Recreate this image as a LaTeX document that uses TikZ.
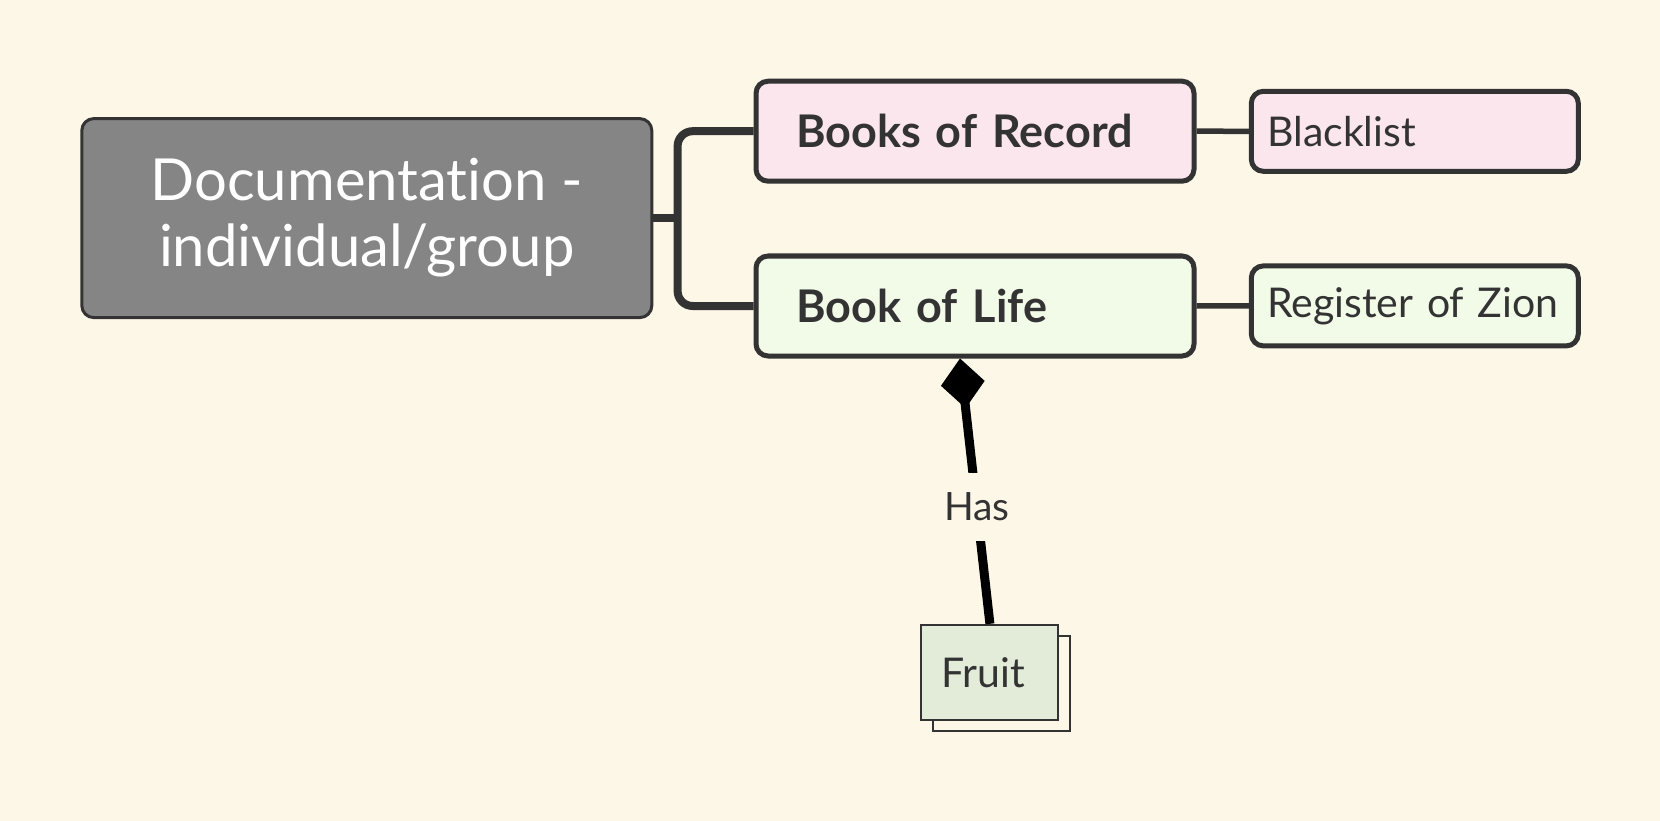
\documentclass[tikz,border=0pt]{standalone}
\usepackage{fontspec}
\setmainfont{Lato}[Ligatures=NoCommon]
\usetikzlibrary{arrows.meta,shadows,calc}
\definecolor{bg}{HTML}{FDF7E8}
\definecolor{dark}{HTML}{333333}
\definecolor{cgray}{HTML}{858585}
\definecolor{pinkf}{HTML}{FAE6EC}
\definecolor{greenf}{HTML}{F2FAE8}
\definecolor{fruitf}{HTML}{E3ECD9}
\begin{document}
\begin{tikzpicture}[x=1pt,y=-1pt,
  central/.style={rounded corners=12pt, fill=cgray, draw=dark, line width=3pt,
    minimum width=570pt, minimum height=199pt, text=white, align=center,
    font=\fontsize{58}{66}\selectfont},
  branch/.style={rounded corners=12pt, draw=dark, line width=5pt,
    inner xsep=40pt, text width=358pt, align=left, minimum height=100pt,
    text=dark, font=\bfseries\fontsize{45}{54}\selectfont},
  leaf/.style={rounded corners=12pt, draw=dark, line width=5pt,
    inner xsep=8pt, text width=311pt, align=left, minimum height=80pt,
    text=dark, font=\fontsize{41}{49}\selectfont},
  conn/.style={draw=dark, line width=8pt},
  thinconn/.style={draw=dark, line width=5.5pt},
  fruitbox/.style={fill=fruitf, draw=dark, line width=2pt,
    inner xsep=18pt, text width=101pt, align=left,
    minimum height=95pt, text=dark,
    font=\fontsize{41}{49}\selectfont,
    copy shadow={shadow xshift=11.6pt, shadow yshift=-11.6pt, fill=bg, draw=dark, line width=2pt}}
]
\fill[bg] (0,0) rectangle (1660,821);
\useasboundingbox (0,0) rectangle (1660,821);

\node[central] (doc) at (366.8,218.1) {Documentation -\\individual/group};
\node[branch, fill=pinkf] (bor) at (975,131.2) {Books of Record};
\node[branch, fill=greenf] (bol) at (975,306) {Book of Life};
\node[leaf, fill=pinkf] (black) at (1414.8,131.3) {\hspace*{8pt}Blacklist};
\node[leaf, fill=greenf] (zion) at (1414.8,305.9) {\hspace*{8pt}Register of Zion};
\node[fruitbox] (fruit) at (989.9,672.3) {\hspace*{2pt}Fruit};

\coordinate (junc) at (677.6,218.1);
\draw[conn] (doc.east) -- (junc);
\draw[conn, rounded corners=15pt] (bor.west) -- (bor.west -| junc) -- (bol.west -| junc) -- (bol.west);
\draw[thinconn] (bor.east) -- (black.west);
\draw[thinconn] (bol.east) -- (zion.west);

\draw[line width=9pt, -{Diamond[length=50pt,width=44pt]}] (fruit.north) -- ([xshift=-15pt]bol.south)
  node[pos=0.44, fill=bg, text=dark, inner ysep=20pt, inner xsep=4pt, font=\fontsize{39}{47}\selectfont] (has) {Has};
\end{tikzpicture}
\end{document}
